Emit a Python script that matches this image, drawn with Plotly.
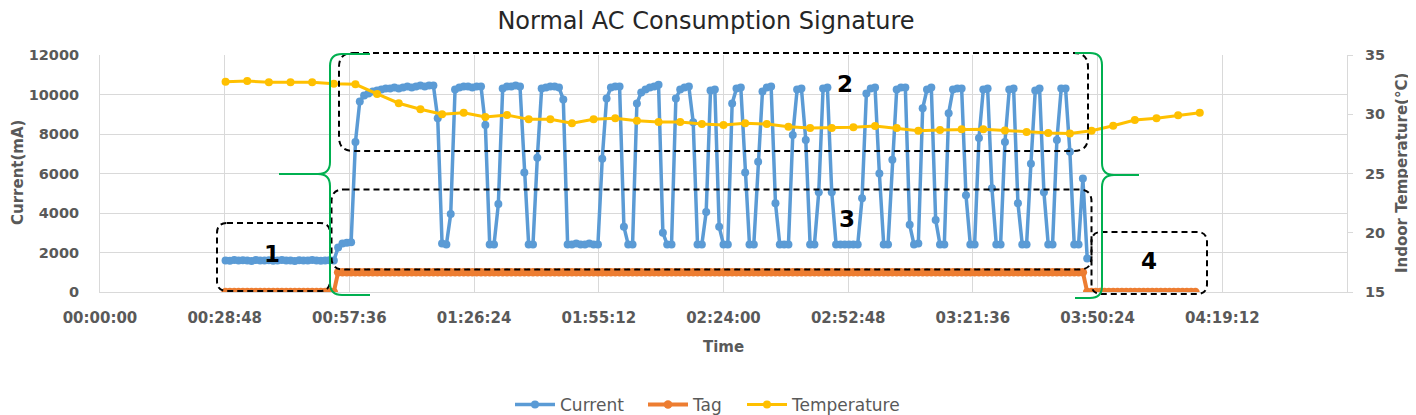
import plotly.graph_objects as go

# ---------------- data ----------------
title_text = "Normal AC Consumption Signature"

x_tick_minutes = [0, 28.8, 57.6, 86.4, 115.2, 144.0, 172.8, 201.6, 230.4, 259.2]
x_tick_labels = ["00:00:00", "00:28:48", "00:57:36", "01:26:24", "01:55:12",
                 "02:24:00", "02:52:48", "03:21:36", "03:50:24", "04:19:12"]

# elapsed minutes of each current sample
current_minute = [
    29, 30, 31, 32, 33, 34, 35, 36, 37, 38, 39, 40, 41, 42, 43, 44, 45, 46, 47, 48,
    49, 50, 51, 52, 53, 54, 55, 56, 57, 58, 59, 60, 61, 62, 63, 64, 65, 66, 67, 68,
    69, 70, 71, 72, 73, 74, 75, 76, 77, 78, 79, 80, 81, 82, 83, 84, 85, 86, 87, 88,
    89, 90, 91, 92, 93, 94, 95, 96, 97, 98, 99, 100, 101, 102, 103, 104, 105, 106, 107, 108,
    109, 110, 111, 112, 113, 114, 115, 116, 117, 118, 119, 120, 121, 122, 123, 124, 125, 126, 127, 128,
    129, 130, 131, 132, 133, 134, 135, 136, 137, 138, 139, 140, 141, 142, 143, 144, 145, 146, 147, 148,
    149, 150, 151, 152, 153, 154, 155, 156, 157, 158, 159, 160, 161, 162, 163, 164, 165, 166, 167, 168,
    169, 170, 171, 172, 173, 174, 175, 176, 177, 178, 179, 180, 181, 182, 183, 184, 185, 186, 187, 188,
    189, 190, 191, 192, 193, 194, 195, 196, 197, 198, 199, 200, 201, 202, 203, 204, 205, 206, 207, 208,
    209, 210, 211, 212, 213, 214, 215, 216, 217, 218, 219, 220, 221, 222, 223, 224, 225, 226, 227, 228,
]
current_ma = [
    1600, 1580, 1620, 1590, 1610, 1600, 1570, 1620, 1600, 1590, 1610, 1580, 1600, 1620, 1590, 1600, 1570, 1610, 1600, 1590,
    1620, 1600, 1580, 1600, 1610, 1590, 2250, 2450, 2500, 2520, 7600, 9650, 9950, 10050, 10150, 10200, 10250, 10300, 10300, 10350,
    10300, 10350, 10400, 10350, 10400, 10450, 10400, 10450, 10450, 8800, 2450, 2400, 3950, 10250, 10350, 10400, 10400, 10350, 10400, 10400,
    8450, 2400, 2400, 4450, 10300, 10400, 10400, 10450, 10400, 6050, 2400, 2400, 6800, 10300, 10350, 10400, 10400, 10350, 9750, 2400,
    2400, 2450, 2400, 2400, 2450, 2400, 2400, 6750, 9800, 10350, 10400, 10400, 3300, 2400, 2400, 9550, 10100, 10250, 10350, 10400,
    10500, 3000, 2400, 2400, 9800, 10250, 10350, 10400, 8600, 2400, 2400, 4050, 10200, 10250, 3300, 2400, 2400, 9550, 10300, 10350,
    6050, 2400, 2400, 6600, 10150, 10350, 10400, 4500, 2400, 2400, 2400, 7950, 10250, 10300, 7700, 2400, 2400, 5050, 10300, 10350,
    5050, 2400, 2400, 2400, 2400, 2400, 2400, 4750, 10050, 10300, 10350, 6000, 2400, 2400, 6700, 10250, 10350, 10350, 3400, 2400,
    2450, 9300, 10250, 10350, 3650, 2400, 2400, 9050, 10250, 10300, 10300, 4900, 2400, 2400, 7800, 10250, 10300, 5250, 2400, 2400,
    7600, 10250, 10300, 4500, 2400, 2400, 6500, 10200, 10300, 5050, 2400, 2400, 7700, 10300, 10300, 7100, 2400, 2400, 5750, 1700,
]

tag_minute = [
    29, 30, 31, 32, 33, 34, 35, 36, 37, 38, 39, 40, 41, 42, 43, 44, 45, 46, 47, 48, 49, 50, 51, 52, 53,
    54, 55, 56, 57, 58, 59, 60, 61, 62, 63, 64, 65, 66, 67, 68, 69, 70, 71, 72, 73, 74, 75, 76, 77, 78,
    79, 80, 81, 82, 83, 84, 85, 86, 87, 88, 89, 90, 91, 92, 93, 94, 95, 96, 97, 98, 99, 100, 101, 102, 103,
    104, 105, 106, 107, 108, 109, 110, 111, 112, 113, 114, 115, 116, 117, 118, 119, 120, 121, 122, 123, 124, 125, 126, 127, 128,
    129, 130, 131, 132, 133, 134, 135, 136, 137, 138, 139, 140, 141, 142, 143, 144, 145, 146, 147, 148, 149, 150, 151, 152, 153,
    154, 155, 156, 157, 158, 159, 160, 161, 162, 163, 164, 165, 166, 167, 168, 169, 170, 171, 172, 173, 174, 175, 176, 177, 178,
    179, 180, 181, 182, 183, 184, 185, 186, 187, 188, 189, 190, 191, 192, 193, 194, 195, 196, 197, 198, 199, 200, 201, 202, 203,
    204, 205, 206, 207, 208, 209, 210, 211, 212, 213, 214, 215, 216, 217, 218, 219, 220, 221, 222, 223, 224, 225, 226, 227, 228,
    229, 230, 231, 232, 233, 234, 235, 236, 237, 238, 239, 240, 241, 242, 243, 244, 245, 246, 247, 248, 249, 250, 251, 252, 253,
]
tag_value = [
    0, 0, 0, 0, 0, 0, 0, 0, 0, 0, 0, 0, 0, 0, 0, 0, 0, 0, 0, 0, 0, 0, 0, 0, 0,
    0, 1000, 1000, 1000, 1000, 1000, 1000, 1000, 1000, 1000, 1000, 1000, 1000, 1000, 1000, 1000, 1000, 1000, 1000, 1000, 1000, 1000, 1000, 1000, 1000,
    1000, 1000, 1000, 1000, 1000, 1000, 1000, 1000, 1000, 1000, 1000, 1000, 1000, 1000, 1000, 1000, 1000, 1000, 1000, 1000, 1000, 1000, 1000, 1000, 1000,
    1000, 1000, 1000, 1000, 1000, 1000, 1000, 1000, 1000, 1000, 1000, 1000, 1000, 1000, 1000, 1000, 1000, 1000, 1000, 1000, 1000, 1000, 1000, 1000, 1000,
    1000, 1000, 1000, 1000, 1000, 1000, 1000, 1000, 1000, 1000, 1000, 1000, 1000, 1000, 1000, 1000, 1000, 1000, 1000, 1000, 1000, 1000, 1000, 1000, 1000,
    1000, 1000, 1000, 1000, 1000, 1000, 1000, 1000, 1000, 1000, 1000, 1000, 1000, 1000, 1000, 1000, 1000, 1000, 1000, 1000, 1000, 1000, 1000, 1000, 1000,
    1000, 1000, 1000, 1000, 1000, 1000, 1000, 1000, 1000, 1000, 1000, 1000, 1000, 1000, 1000, 1000, 1000, 1000, 1000, 1000, 1000, 1000, 1000, 1000, 1000,
    1000, 1000, 1000, 1000, 1000, 1000, 1000, 1000, 1000, 1000, 1000, 1000, 1000, 1000, 1000, 1000, 1000, 1000, 1000, 1000, 1000, 1000, 1000, 1000, 0,
    0, 0, 0, 0, 0, 0, 0, 0, 0, 0, 0, 0, 0, 0, 0, 0, 0, 0, 0, 0, 0, 0, 0, 0, 0,
]

temp_minute = [29, 34, 39, 44, 49, 54, 59, 64, 69, 74, 79, 84, 89, 94, 99, 104, 109, 114, 119, 124,
               129, 134, 139, 144, 149, 154, 159, 164, 169, 174, 179, 184, 189, 194, 199, 204, 209, 214, 219, 224,
               229, 234, 239, 244, 249, 254]
temp_c = [32.75, 32.8, 32.7, 32.7, 32.7, 32.58, 32.53, 31.71, 30.93, 30.42, 30.0, 30.13, 29.77, 29.94, 29.57,
          29.57, 29.24, 29.57, 29.66, 29.46, 29.35, 29.35, 29.18, 29.1, 29.24, 29.18, 28.95, 28.84, 28.84, 28.9,
          29.01, 28.84, 28.61, 28.67, 28.73, 28.73, 28.63, 28.5, 28.42, 28.38, 28.61, 29.03, 29.52, 29.66, 29.91, 30.13]

assert len(current_minute) == len(current_ma)
assert len(tag_minute) == len(tag_value)
assert len(temp_minute) == len(temp_c)

# ---------------- styling ----------------
BLUE, ORANGE, YELLOW = "#5B9BD5", "#ED7D31", "#FFC000"
GRID, TXT = "#D9D9D9", "#595959"
FONT = "DejaVu Sans"
OFF = 8                      # page body margin of the html page
W, H = 1416 - OFF, 415 - OFF
# plot-area edges in reference-image pixels
RL, RR, RT, RB = 100, 1347, 55, 292


def px(x):
    return (x - RL) / (RR - RL)


def py(y):
    return (RB - y) / (RB - RT)


def cx(x):
    return (x - OFF) / W


def cy(y):
    return 1 - (y - OFF) / H


def rounded_box(x0, y0, x1, y1, r):
    pts = [
        f"M {px(x0 + r)},{py(y0)}", f"L {px(x1 - r)},{py(y0)}",
        f"Q {px(x1)},{py(y0)} {px(x1)},{py(y0 + r)}", f"L {px(x1)},{py(y1 - r)}",
        f"Q {px(x1)},{py(y1)} {px(x1 - r)},{py(y1)}", f"L {px(x0 + r)},{py(y1)}",
        f"Q {px(x0)},{py(y1)} {px(x0)},{py(y1 - r)}", f"L {px(x0)},{py(y0 + r)}",
        f"Q {px(x0)},{py(y0)} {px(x0 + r)},{py(y0)}", "Z",
    ]
    return " ".join(pts)


def brace(xs, ytop, ybot, ytip, xtip, xarm, r=12):
    d = 1 if xarm > xs else -1
    t = -d
    p = [
        f"M {px(xarm)},{py(ytop)}", f"L {px(xs + d * r)},{py(ytop)}",
        f"Q {px(xs)},{py(ytop)} {px(xs)},{py(ytop + r)}", f"L {px(xs)},{py(ytip - r)}",
        f"Q {px(xs)},{py(ytip)} {px(xs + t * r)},{py(ytip)}", f"L {px(xtip)},{py(ytip)}",
        f"M {px(xs + t * r)},{py(ytip)}",
        f"Q {px(xs)},{py(ytip)} {px(xs)},{py(ytip + r)}", f"L {px(xs)},{py(ybot - r)}",
        f"Q {px(xs)},{py(ybot)} {px(xs + d * r)},{py(ybot)}", f"L {px(xarm)},{py(ybot)}",
    ]
    return " ".join(p)


fig = go.Figure()
fig.add_trace(go.Scatter(x=current_minute, y=current_ma, name="Current", mode="lines+markers", legend="legend",
                         showlegend=True,
                         line=dict(color=BLUE, width=3.5), marker=dict(color=BLUE, size=8)))
fig.add_trace(go.Scatter(x=tag_minute, y=tag_value, name="Tag", mode="lines+markers", legend="legend2",
                         showlegend=True,
                         line=dict(color=ORANGE, width=4), marker=dict(color=ORANGE, size=8.5)))
fig.add_trace(go.Scatter(x=temp_minute, y=temp_c, name="Temperature", mode="lines+markers", yaxis="y2",
                         legend="legend3", showlegend=True,
                         line=dict(color=YELLOW, width=3), marker=dict(color=YELLOW, size=8)))

dash = dict(color="black", width=2, dash="6px,4px")
green = dict(color="#00B050", width=2)
shapes = [
    dict(type="path", xref="paper", yref="paper", path=rounded_box(217, 223, 330, 291, 10), line=dash),
    dict(type="path", xref="paper", yref="paper", path=rounded_box(339, 53, 1088, 151, 14), line=dash),
    dict(type="path", xref="paper", yref="paper", path=rounded_box(331.5, 189.5, 1091.5, 269.5, 12), line=dash),
    dict(type="path", xref="paper", yref="paper", path=rounded_box(1091.5, 232, 1207, 294, 10), line=dash),
    dict(type="path", xref="paper", yref="paper", path=brace(330, 54, 295, 174, 279, 370), line=green),
    dict(type="path", xref="paper", yref="paper", path=brace(1102, 53, 298, 175, 1139, 1075), line=green),
]

annotations = []
for txt, x, y in [("1", 272, 254), ("2", 845, 84), ("3", 847, 219), ("4", 1149, 261)]:
    annotations.append(dict(text=f"<b>{txt}</b>", x=px(x), y=py(y), xref="paper", yref="paper",
                            xanchor="center", yanchor="middle",
                            showarrow=False, font=dict(family=FONT, size=23, color="black")))
annotations += [
    dict(text="<b>Current(mA)</b>", x=px(18), y=py(173), xref="paper", yref="paper", showarrow=False,
         xanchor="center", yanchor="middle",
         textangle=-90, font=dict(family=FONT, size=15, color=TXT)),
    dict(text="<b>Indoor Temperature(°C)</b>", x=px(1402), y=py(173), xref="paper", yref="paper",
         xanchor="center", yanchor="middle",
         showarrow=False, textangle=-90, font=dict(family=FONT, size=15, color=TXT)),
    dict(text="<b>Time</b>", x=px(723), y=py(347), xref="paper", yref="paper", showarrow=False,
         xanchor="center", yanchor="middle",
         font=dict(family=FONT, size=15, color=TXT)),
]

xtickfont = dict(family=FONT, size=15, color=TXT)
ytickfont = dict(family=FONT, size=14.5, color=TXT)
legfont = dict(family=FONT, size=17, color=TXT)


def leg(x_left):
    return dict(orientation="h", x=cx(x_left), xref="container", xanchor="left",
                y=cy(405), yref="container", yanchor="middle", font=legfont, itemwidth=40,
                bgcolor="rgba(0,0,0,0)")


fig.update_layout(
    width=W, height=H, showlegend=True,
    margin=dict(l=RL - OFF, r=W - (RR - OFF), t=RT - OFF, b=H - (RB - OFF), autoexpand=False),
    paper_bgcolor="white", plot_bgcolor="white",
    font=dict(family=FONT, color=TXT),
    title=dict(text=title_text, x=cx(706), xref="container", xanchor="center",
               y=cy(21), yref="container", yanchor="middle",
               font=dict(family=FONT, size=24, color="#262626")),
    xaxis=dict(range=[0, 288], tickvals=x_tick_minutes, ticktext=[f"<b>{t}</b>" for t in x_tick_labels],
               showgrid=True, gridcolor=GRID, gridwidth=1, zeroline=False,
               showline=True, linecolor=GRID, linewidth=1, automargin=False,
               tickfont=xtickfont, ticklabelstandoff=12),
    yaxis=dict(range=[0, 12000], tickvals=[0, 2000, 4000, 6000, 8000, 10000, 12000],
               ticktext=["<b>0</b>", "<b>2000</b>", "<b>4000</b>", "<b>6000</b>", "<b>8000</b>",
                         "<b>10000</b>", "<b>12000</b>"],
               showgrid=True, gridcolor=GRID, zeroline=False, showline=True, linecolor=GRID,
               ticks="outside", ticklen=5, tickcolor="rgba(0,0,0,0)",
               automargin=False, tickfont=ytickfont, ticklabelstandoff=12),
    yaxis2=dict(range=[15, 35], tickvals=[15, 20, 25, 30, 35],
                ticktext=["<b>15</b>", "<b>20</b>", "<b>25</b>", "<b>30</b>", "<b>35</b>"],
                overlaying="y", side="right", showgrid=False, zeroline=False,
                showline=True, linecolor=GRID, ticks="outside", ticklen=5, tickcolor=GRID,
                automargin=False, tickfont=ytickfont, ticklabelstandoff=9),
    legend=leg(510), legend2=leg(643), legend3=leg(742),
    shapes=shapes, annotations=annotations,
)

fig.write_html("out.html")
